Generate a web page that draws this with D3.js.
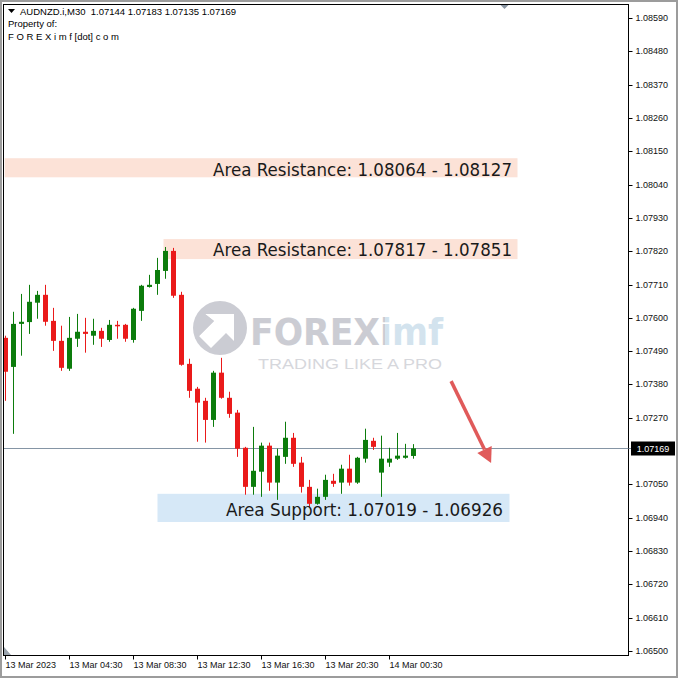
<!DOCTYPE html>
<html><head><meta charset="utf-8">
<script src="https://cdn.jsdelivr.net/npm/d3@7"></script>
<style>html,body{margin:0;padding:0;background:#fff;}svg{display:block;}</style>
</head><body>
<svg id="c" width="678" height="678"></svg>
<script>
// ---- data ----
const opens  = [1.07534,1.07438,1.07580,1.07586,1.07650,1.07676,1.07590,1.07524,1.07432,1.07531,1.07554,1.07541,1.07557,1.07527,1.07577,1.07577,1.07527,1.07623,1.07702,1.07712,1.07755,1.07821,1.07676,1.07448,1.07366,1.07326,1.07263,1.07419,1.07336,1.07287,1.07171,1.07042,1.07092,1.07178,1.07056,1.07141,1.07204,1.07122,1.07042,1.06986,1.07009,1.07062,1.07056,1.07102,1.07056,1.07135,1.07194,1.07089,1.07122,1.07135,1.07138,1.07144];
const highs  = [1.07541,1.07620,1.07679,1.07709,1.07689,1.07709,1.07633,1.07574,1.07603,1.07613,1.07600,1.07597,1.07567,1.07593,1.07590,1.07580,1.07633,1.07709,1.07742,1.07798,1.07834,1.07831,1.07686,1.07465,1.07372,1.07336,1.07425,1.07468,1.07356,1.07296,1.07174,1.07240,1.07188,1.07188,1.07168,1.07257,1.07220,1.07141,1.07065,1.07036,1.07082,1.07085,1.07115,1.07148,1.07141,1.07234,1.07204,1.07211,1.07171,1.07220,1.07184,1.07183];
const lows   = [1.07326,1.07217,1.07475,1.07547,1.07597,1.07574,1.07491,1.07425,1.07425,1.07504,1.07485,1.07511,1.07504,1.07521,1.07531,1.07521,1.07518,1.07590,1.07700,1.07676,1.07729,1.07666,1.07442,1.07336,1.07191,1.07188,1.07240,1.07333,1.07270,1.07141,1.07016,1.07016,1.07009,1.07029,1.06999,1.07118,1.07108,1.07023,1.06976,1.06983,1.06999,1.07042,1.07019,1.07046,1.07052,1.07122,1.07164,1.07009,1.07108,1.07131,1.07135,1.07135];
const closes = [1.07422,1.07580,1.07587,1.07653,1.07676,1.07587,1.07524,1.07435,1.07534,1.07554,1.07547,1.07557,1.07531,1.07577,1.07574,1.07531,1.07630,1.07706,1.07709,1.07758,1.07821,1.07673,1.07445,1.07359,1.07320,1.07263,1.07419,1.07336,1.07283,1.07168,1.07042,1.07095,1.07178,1.07056,1.07145,1.07204,1.07118,1.07042,1.06986,1.07009,1.07065,1.07052,1.07102,1.07056,1.07138,1.07197,1.07174,1.07135,1.07135,1.07145,1.07145,1.07169];

// 1.07160 is hidden behind the last-price tag in the reference
const yTickLabels = ["1.08590","1.08480","1.08370","1.08260","1.08150","1.08040","1.07930","1.07820","1.07710","1.07600","1.07490","1.07380","1.07270","1.07050","1.06940","1.06830","1.06720","1.06610","1.06500"];
const xTickIndex  = [0,8,16,24,32,40,48];
const xTickLabels = ["13 Mar 2023","13 Mar 04:30","13 Mar 08:30","13 Mar 12:30","13 Mar 16:30","13 Mar 20:30","14 Mar 00:30"];

// zones: [startBar, endBar, topPrice, bottomPrice]
const zoneNames  = ["Area Resistance: 1.08064 - 1.08127","Area Resistance: 1.07817 - 1.07851","Area Support: 1.07019 - 1.06926"];
const zoneStart  = [-0.1, 19.75, 19];
const zoneEnd    = [64, 64, 63];
const zoneTop    = [1.08127, 1.07860, 1.07019];
const zoneBottom = [1.08064, 1.07794, 1.06926];
const zoneKind   = ["res","res","sup"];

const lastPrice = 1.07169;
const header = ["AUDNZD.i,M30  1.07144 1.07183 1.07135 1.07169","Property of:","F O R E X i m f [dot] c o m"];
// forecast arrow: [bar, price]
const arrowFrom = [55.7, 1.07391];
const arrowTo   = [60.7, 1.07121];

// ---- layout ----
const svg = d3.select("#c");
const L = 3.5, T = 4.5, R = 628.5, B = 655.5;
const x = d3.scaleLinear().domain([0, 64]).range([5.5, 517.5]);
const y = d3.scaleLinear().domain([1.06500, 1.08590]).range([651, 18]);
const FONT = "'Liberation Sans', Arial, sans-serif";

svg.append("rect").attr("x",0).attr("y",0).attr("width",678).attr("height",678).attr("fill","#fff");
svg.append("rect").attr("x",1).attr("y",1).attr("width",676).attr("height",676)
  .attr("fill","none").attr("stroke","#9c9c9c").attr("stroke-width",2);

const defs = svg.append("defs");
defs.append("clipPath").attr("id","plot")
  .append("rect").attr("x",L).attr("y",T).attr("width",R-L).attr("height",B-T);
const grad = defs.append("linearGradient").attr("id","wmg").attr("gradientUnits","userSpaceOnUse")
  .attr("x1",250).attr("x2",443).attr("y1",0).attr("y2",0);
grad.append("stop").attr("offset",0).attr("stop-color","#cbccd3");
grad.append("stop").attr("offset",0.70).attr("stop-color","#cbccd3");
grad.append("stop").attr("offset",0.70).attr("stop-color","#d3e3ee");
grad.append("stop").attr("offset",1).attr("stop-color","#d3e3ee");

const plot = svg.append("g").attr("clip-path","url(#plot)");

// zones
zoneNames.forEach((n,i)=>{
  plot.append("rect")
    .attr("x", x(zoneStart[i])).attr("width", x(zoneEnd[i]) - x(zoneStart[i]))
    .attr("y", y(zoneTop[i])).attr("height", y(zoneBottom[i]) - y(zoneTop[i]))
    .attr("fill", zoneKind[i]==="res" ? "#fce2d7" : "#d6e8f7");
});

// watermark
const wm = plot.append("g");
wm.append("circle").attr("cx",220).attr("cy",328).attr("r",27).attr("fill","#cbccd3");
wm.append("path").attr("d","M205,314 L234,314 L234,341 L226,333 L211,348 L199,336 L214,321 Z").attr("fill","#fff");
wm.append("path").attr("d","M199,336 L214,321 L205,314 L197,322 Z").attr("fill","#cbccd3");
wm.append("text").attr("x",250).attr("y",345).attr("font-family","'DejaVu Sans', sans-serif")
  .attr("font-weight","bold").attr("font-size",38).attr("textLength",193).attr("lengthAdjust","spacingAndGlyphs")
  .attr("fill","url(#wmg)").text("FOREXimf");
wm.append("text").attr("x",258).attr("y",369).attr("font-family",FONT).attr("font-size",15)
  .attr("fill","#d6d7dc").attr("textLength",184).attr("lengthAdjust","spacingAndGlyphs").text("TRADING LIKE A PRO");

// last price line
plot.append("line").attr("x1",L).attr("x2",R).attr("y1",Math.round(y(lastPrice))+0.5).attr("y2",Math.round(y(lastPrice))+0.5)
  .attr("stroke","#8595a5").attr("stroke-width",1);

// candles
const data = opens.map((o,i)=>({i, o, h:highs[i], l:lows[i], c:closes[i]}));
const cg = plot.append("g").selectAll("g").data(data).join("g");
const col = d => d.c >= d.o ? "#0c7c0c" : "#ea1a1a";
cg.append("line")
  .attr("x1", d=>x(d.i)).attr("x2", d=>x(d.i))
  .attr("y1", d=>y(d.h)).attr("y2", d=>y(d.l))
  .attr("stroke", col).attr("stroke-width",1);
cg.append("rect")
  .attr("x", d=>x(d.i)-2.5).attr("width",5)
  .attr("y", d=>y(Math.max(d.o,d.c)))
  .attr("height", d=>Math.max(1.5, Math.abs(y(d.o)-y(d.c))))
  .attr("fill", col);

// zone labels
const labelX = [512, 512, 503];
const labelW = [299, 299, 277];
const labelDy = [8, 6.5, 8];
zoneNames.forEach((n,i)=>{
  const cy = (y(zoneTop[i]) + y(zoneBottom[i]))/2;
  plot.append("text").attr("x", labelX[i]-labelW[i]).attr("y", cy+labelDy[i])
    .attr("font-family","'DejaVu Sans', sans-serif").attr("font-size",17)
    .attr("fill","#1a1a1a").attr("textLength",labelW[i]).attr("lengthAdjust","spacingAndGlyphs").text(n);
});

// forecast arrow
const ax1 = x(arrowFrom[0]), ay1 = y(arrowFrom[1]), ax2 = x(arrowTo[0]), ay2 = y(arrowTo[1]);
const ang = Math.atan2(ay2-ay1, ax2-ax1);
const hl = 15, hw = 8;
const bx = ax2 - hl*Math.cos(ang), by = ay2 - hl*Math.sin(ang);
plot.append("line").attr("x1",ax1).attr("y1",ay1).attr("x2",bx).attr("y2",by)
  .attr("stroke","#e05a5a").attr("stroke-width",3.5);
plot.append("path").attr("d", `M${ax2},${ay2} L${bx + hw*Math.sin(ang)},${by - hw*Math.cos(ang)} L${bx - hw*Math.sin(ang)},${by + hw*Math.cos(ang)} Z`)
  .attr("fill","#e05a5a");

// markers
svg.append("path").attr("d","M500,4.5 L509,4.5 L504.5,9 Z").attr("fill","#8a96a3");
svg.append("path").attr("d","M4,647 L4,655 L11,655 Z").attr("fill","#9aa3ad");

// frame
svg.append("rect").attr("x",L).attr("y",T).attr("width",R-L).attr("height",B-T)
  .attr("fill","none").attr("stroke","#000").attr("stroke-width",1);

// y axis
const yVals = yTickLabels.map(Number);
const yAxis = d3.axisRight(y).tickValues(yVals).tickSize(4).tickPadding(3)
  .tickFormat((d,i)=>yTickLabels[i]);
const ya = svg.append("g").attr("transform",`translate(${R},0)`).call(yAxis);
ya.select(".domain").remove();
ya.selectAll("line").attr("stroke","#000");
ya.selectAll("text").attr("font-family",FONT).attr("font-size",9).attr("fill","#111");
ya.selectAll(".tick").attr("transform", d=>`translate(0,${Math.round(y(d))+0.5})`);

// last price tag
const ly = Math.round(y(lastPrice))+0.5;
svg.append("line").attr("x1",R).attr("x2",632).attr("y1",ly).attr("y2",ly).attr("stroke","#8595a5");
svg.append("rect").attr("x",631).attr("y",ly-7).attr("width",44).attr("height",14).attr("fill","#000");
svg.append("text").attr("x",653).attr("y",ly+3.5).attr("text-anchor","middle")
  .attr("font-family",FONT).attr("font-size",9).attr("fill","#fff").text(lastPrice.toFixed(5));

// x axis
const xAxis = d3.axisBottom(x).tickValues(xTickIndex).tickSize(4).tickPadding(2)
  .tickFormat((d,i)=>xTickLabels[i]);
const xa = svg.append("g").attr("transform",`translate(0,${B})`).call(xAxis);
xa.select(".domain").remove();
xa.selectAll("line").attr("stroke","#000").attr("y1",0);
xa.selectAll("text").attr("font-family",FONT).attr("font-size",9).attr("fill","#111")
  .attr("text-anchor","start").attr("dx","0");
xa.selectAll(".tick").attr("transform", d=>`translate(${Math.round(x(d))-0.5},0)`);

// header
svg.append("path").attr("d","M8,9 L15,9 L11.5,13 Z").attr("fill","#000");
header.forEach((h,i)=>{
  svg.append("text").attr("x", i===0?20:8).attr("y", 14.5 + i*12.5)
    .attr("font-family",FONT).attr("font-size",9.5).attr("fill","#000")
    .attr("xml:space","preserve").style("white-space","pre").text(h);
});
</script>
</body></html>
